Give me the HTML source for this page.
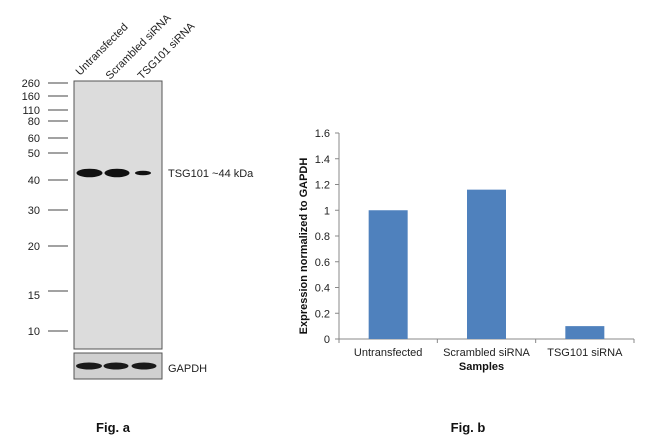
<!DOCTYPE html>
<html><head><meta charset="utf-8"><style>
body{margin:0;background:#fff;width:650px;height:444px;overflow:hidden;font-family:"Liberation Sans",Arial,sans-serif}
svg{display:block}
</style></head><body>
<svg width="650" height="444" font-family="Liberation Sans, Arial, sans-serif">
<g>
  <g font-size="11" fill="#222">
    <text transform="translate(80,76) rotate(-45)">Untransfected</text>
    <text transform="translate(110,80) rotate(-45)">Scrambled siRNA</text>
    <text transform="translate(142,80) rotate(-45)">TSG101 siRNA</text>
  </g>
  <rect x="74" y="81" width="88" height="268" fill="#dcdcdc" stroke="#555" stroke-width="1"/>
  <g id="markers"></g>
  <ellipse cx="89.5" cy="173" rx="13" ry="4.3" fill="#111"/>
  <ellipse cx="117" cy="173" rx="12.5" ry="4.3" fill="#111"/>
  <ellipse cx="143" cy="173" rx="8" ry="2.3" fill="#111"/>
  <text x="168" y="177" font-size="11" fill="#222">TSG101 ~44 kDa</text>
  <rect x="74" y="353" width="88" height="26" fill="#d0d0d0" stroke="#555"/>
  <ellipse cx="89" cy="366" rx="13" ry="3.5" fill="#1a1a1a"/>
  <ellipse cx="116" cy="366" rx="12.5" ry="3.5" fill="#1a1a1a"/>
  <ellipse cx="144" cy="366" rx="12.5" ry="3.5" fill="#1a1a1a"/>
  <text x="168" y="372" font-size="11" fill="#222">GAPDH</text>
  <text x="113" y="432" font-size="13" font-weight="bold" text-anchor="middle" fill="#111">Fig. a</text>
</g>
<g id="chart"></g>
<text x="468" y="432" font-size="13" font-weight="bold" text-anchor="middle" fill="#111">Fig. b</text>
</svg>
<script>
const markerLabels=["260","160","110","80","60","50","40","30","20","15","10"];
const markerY=[83,96,110,121,138,153,180,210,246,291,331];
const categories=["Untransfected","Scrambled siRNA","TSG101 siRNA"];
const values=[1.0,1.16,0.1];
const yTicks=[0,0.2,0.4,0.6,0.8,1,1.2,1.4,1.6];
const NS="http://www.w3.org/2000/svg";
function mk(t,a,p){const e=document.createElementNS(NS,t);for(const k in a)e.setAttribute(k,a[k]);p.appendChild(e);return e;}
const mg=document.getElementById('markers');
markerLabels.forEach((l,i)=>{
  const ln=mk('line',{x1:48,x2:68,y1:markerY[i],y2:markerY[i],stroke:'#444','stroke-width':1},mg);
  
  
  const t=mk('text',{x:40,y:markerY[i]+4+(l==="15"?4:0),'font-size':11,'text-anchor':'end',fill:'#222'},mg);
  t.textContent=l;
  
  
});
const g=document.getElementById('chart');
const x0=339,x1=634,yb=339,yt=133,ymax=1.6;
const y=v=>yb-(v/ymax)*(yb-yt);
const bw=(x1-x0)/categories.length;
const xc=i=>x0+bw*(i+0.5);
const ya=mk('line',{x1:x0,x2:x0,y1:yt,y2:yb,stroke:'#888'},g);


const xa=mk('line',{x1:x0,x2:x1,y1:yb,y2:yb,stroke:'#888'},g);


yTicks.forEach(v=>{
  const tk=mk('line',{x1:x0-4,x2:x0,y1:y(v),y2:y(v),stroke:'#888'},g);
  
  
  const t=mk('text',{x:x0-9,y:y(v)+4,'font-size':11,'text-anchor':'end',fill:'#222'},g);
  t.textContent=String(v);
  
  
});
for(let i=0;i<=categories.length;i++){
  const tk=mk('line',{x1:x0+bw*i,x2:x0+bw*i,y1:yb,y2:yb+4,stroke:'#888'},g);
  
  
}
categories.forEach((c,i)=>{
  const b=mk('rect',{x:xc(i)-19.5,y:y(values[i]),width:39,height:yb-y(values[i]),fill:'#4f81bd'},g);
  
  
  const t=mk('text',{x:xc(i),y:yb+17,'font-size':11,'text-anchor':'middle',fill:'#222'},g);
  t.textContent=c;
  
  
});
const xt=mk('text',{x:(x0+x1)/2-5,y:yb+31,'font-size':11,'font-weight':'bold','text-anchor':'middle',fill:'#111'},g);
xt.textContent='Samples';


const yt2=mk('text',{transform:'translate(307,'+((yt+yb)/2+10)+') rotate(-90)','font-size':11,'font-weight':'bold','text-anchor':'middle',fill:'#111'},g);
yt2.textContent='Expression normalized to GAPDH';


</script>
</body></html>
